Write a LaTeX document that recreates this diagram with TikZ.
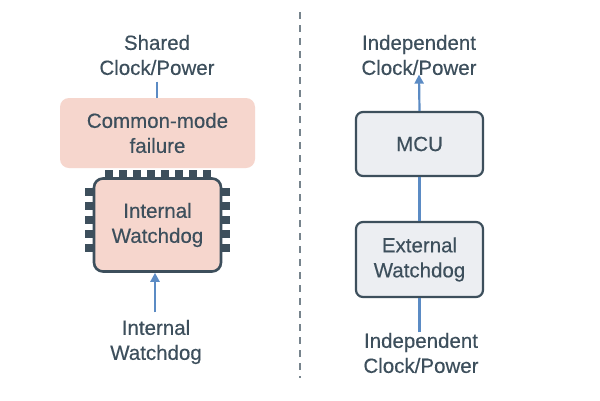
\documentclass[tikz,border=0pt]{standalone}
\usepackage{fontspec}
\setmainfont{Liberation Sans}
\newfontfamily\medf{Liberation Sans}[UprightFeatures={FakeBold=0.35}]
\usetikzlibrary{arrows.meta}
\definecolor{ink}{HTML}{3D4F5C}
\definecolor{pinkf}{HTML}{F6D6CD}
\definecolor{grayf}{HTML}{ECEEF2}
\definecolor{blu}{HTML}{5B8BC4}
\begin{document}
\begin{tikzpicture}[x=1pt,y=-1pt,
 txt/.style={text=ink,font=\medf\fontsize{20.5}{25}\selectfont,align=center},
 box/.style={draw=ink,line width=2.2pt,rounded corners=7pt,fill=grayf,minimum width=127pt,txt},
 pin/.style={fill=ink},
 con/.style={draw=blu,line width=2.2pt},
 arr/.style={con,-{Triangle[length=9pt,width=9pt]}}]
\useasboundingbox (0,0) rectangle (600,400);
\fill[white] (0,0) rectangle (600,400);
\draw[ink!70,line width=1.2pt,dash pattern=on 7pt off 6pt] (300,12) -- (300,378);
% left
\node[txt] (shared) at (157,55) {Shared\\Clock/Power};
\node[fill=pinkf,rounded corners=9pt,minimum width=195pt,minimum height=70pt,txt] (cm) at (157.5,133) {Common-mode\\failure};
\foreach \i in {0,...,7} \fill[pin] (105+\i*14,170) rectangle ++(8,9);
\foreach \i in {0,...,4} {\fill[pin] (85,188+\i*14) rectangle ++(9,8); \fill[pin] (221,188+\i*14) rectangle ++(9,8);}
\node[draw=ink,line width=2.6pt,rounded corners=9pt,fill=pinkf,minimum width=127pt,minimum height=93pt,txt] (iw) at (157.5,225) {Internal\\Watchdog};
\node[txt] (iwl) at (156,342) {Internal\\Watchdog};
\draw[con] (shared.south) ++(0,3) coordinate (s1) -- (s1 |- cm.north);
\draw[arr] (iwl.north) ++(-1,-4) coordinate (a1) -- (a1 |- iw.south);
% right
\node[txt] (ind1) at (419,55) {Independent\\Clock/Power};
\node[box,minimum height=64pt] (mcu) at (419.5,144) {MCU};
\node[box,minimum height=75pt] (ew) at (419.5,259.5) {External\\Watchdog};
\node[txt] (ind2) at (421,353) {Independent\\Clock/Power};
\draw[arr] (mcu.north) -- ([yshift=4pt]ind1.south);
\draw[con] (ew.north) -- (mcu.south);
\draw[con] ([yshift=-3pt]ind2.north -| ew.south) -- (ew.south);
\end{tikzpicture}
\end{document}
